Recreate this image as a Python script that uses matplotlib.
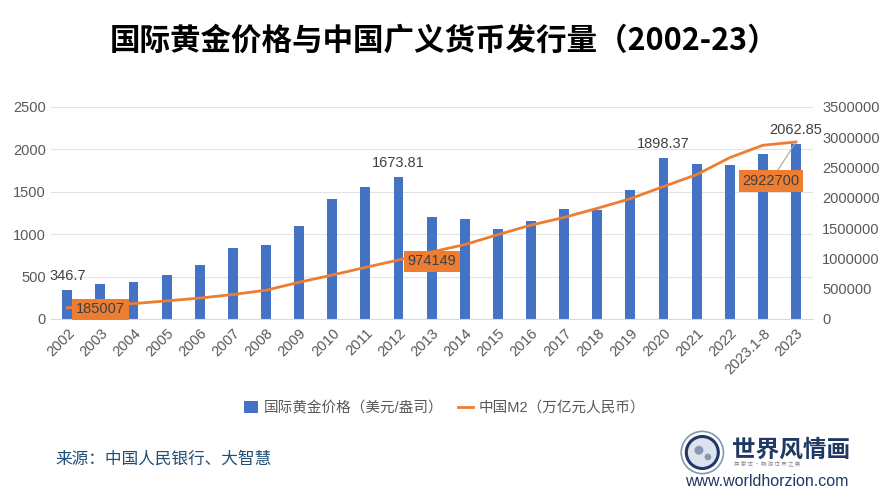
import matplotlib.pyplot as plt
from matplotlib.patches import Circle
from matplotlib.lines import Line2D
from matplotlib.patches import Patch

plt.rcParams['font.family'] = ['Liberation Sans', 'Noto Sans CJK SC']

# data
years = ['2002', '2003', '2004', '2005', '2006', '2007', '2008', '2009', '2010',
         '2011', '2012', '2013', '2014', '2015', '2016', '2017', '2018', '2019',
         '2020', '2021', '2022', '2023.1-8', '2023']
gold = [346.7, 413, 432, 515, 637, 833, 877, 1093, 1419, 1560, 1673.81, 1203,
        1183, 1057, 1152, 1301, 1281, 1517, 1898.37, 1824, 1820, 1942, 2062.85]
m2 = [185007, 221223, 254107, 298756, 345604, 403442, 475166, 606225, 725851,
      851590, 974149, 1106525, 1228375, 1392278, 1550067, 1676769, 1826744,
      1986489, 2186796, 2382899, 2664321, 2868200, 2922700]
gold_labels = {0: '346.7', 10: '1673.81', 18: '1898.37', 22: '2062.85'}

blue = '#4472C4'
orange = '#ED7D31'
grey = '#595959'

fig = plt.figure(figsize=(8.89, 5.0), dpi=100)
ax = fig.add_axes([0.057, 0.362, 0.857, 0.424])
ax2 = ax.twinx()

x = list(range(len(years)))
ax.bar(x, gold, width=0.3, color=blue, zorder=2)
ax2.plot(x, m2, color=orange, lw=2, zorder=3)

ax.set_xlim(-0.5, len(years) - 0.5)
ax.set_ylim(0, 2500)
ax2.set_ylim(0, 3500000)
ax.set_yticks(range(0, 2501, 500))
ax2.set_yticks(range(0, 3500001, 500000))
ax2.set_yticklabels([str(v) for v in range(0, 3500001, 500000)])
ax.yaxis.grid(True, color='#E3E3E3', lw=0.8, zorder=0)
ax.set_axisbelow(True)

for a in (ax, ax2):
    for s in a.spines.values():
        s.set_visible(False)
    a.tick_params(length=0, labelsize=10.5, labelcolor=grey)
ax.spines['bottom'].set_visible(True)
ax.spines['bottom'].set_color('#D9D9D9')

ax.set_xticks(x)
ax.set_xticklabels(years, rotation=45, ha='right', rotation_mode='anchor')
ax.tick_params(axis='x', pad=5)
ax2.tick_params(axis='y', pad=7)

for i, t in gold_labels.items():
    ax.annotate(t, (i, gold[i]), xytext=(0, 10), textcoords='offset points',
                ha='center', va='center', fontsize=10.5, color='#404040', zorder=5)

box = dict(boxstyle='square,pad=0.25', fc=orange, ec='none')
ax2.annotate('185007', (0, m2[0]), xytext=(24, -1), textcoords='offset points',
             ha='center', va='center', fontsize=10.5, color='#404040', bbox=box, zorder=6)
ax2.annotate('974149', (10, m2[10]), xytext=(24, -1), textcoords='offset points',
             ha='center', va='center', fontsize=10.5, color='#404040', bbox=box, zorder=6)
ax2.annotate('2922700', (22, m2[22]), xytext=(-18, -28), textcoords='offset points',
             ha='center', va='center', fontsize=10.5, color='#404040', bbox=box, zorder=6,
             arrowprops=dict(arrowstyle='-', color='#A6A6A6', lw=0.8, shrinkA=0, shrinkB=0))

fig.text(0.5, 0.918, '国际黄金价格与中国广义货币发行量（2002-23）', ha='center', va='center',
         fontsize=22, fontweight='bold', family=['Noto Sans CJK SC'], color='black')

handles = [Patch(fc=blue, ec='none'), Line2D([], [], color=orange, lw=2)]
fig.legend(handles, ['国际黄金价格（美元/盎司）', '中国M2（万亿元人民币）'],
           loc='center', bbox_to_anchor=(0.5, 0.184), ncol=2, frameon=False,
           fontsize=10.5, labelcolor=grey, handlelength=1.0, handleheight=0.9,
           columnspacing=1.0, handletextpad=0.4)

fig.text(0.062, 0.082, '来源：中国人民银行、大智慧', ha='left', va='center',
         fontsize=12, color='#1F4E79', family=['Noto Sans CJK SC'])

# logo in the bottom right corner
lax = fig.add_axes([0.765, 0.05, 0.05, 0.09])
lax.set_xlim(-1, 1)
lax.set_ylim(-1, 1)
lax.set_aspect('equal')
lax.axis('off')
lax.add_patch(Circle((0, 0), 0.95, fc='white', ec='#8497B0', lw=1.2))
lax.add_patch(Circle((0, 0), 0.72, fc='#DCE3EC', ec='#1F3864', lw=2.2))
lax.add_patch(Circle((-0.15, 0.1), 0.2, fc='#8497B0', ec='none'))
lax.add_patch(Circle((0.25, -0.2), 0.15, fc='#8497B0', ec='none'))

fig.text(0.823, 0.100, '世界风情画', ha='left', va='center', fontsize=17,
         fontweight='bold', color='#1F3864', family=['Noto Sans CJK SC'])
fig.text(0.826, 0.073, '探 索 世 · 畅 游 世 界 之 美', ha='left', va='center', fontsize=4,
         color='#8C8C8C', family=['Noto Sans CJK SC'])
fig.text(0.771, 0.036, 'www.worldhorzion.com', ha='left', va='center', fontsize=11.5,
         color='#1F3864')

fig.savefig('out.png', dpi=100)
